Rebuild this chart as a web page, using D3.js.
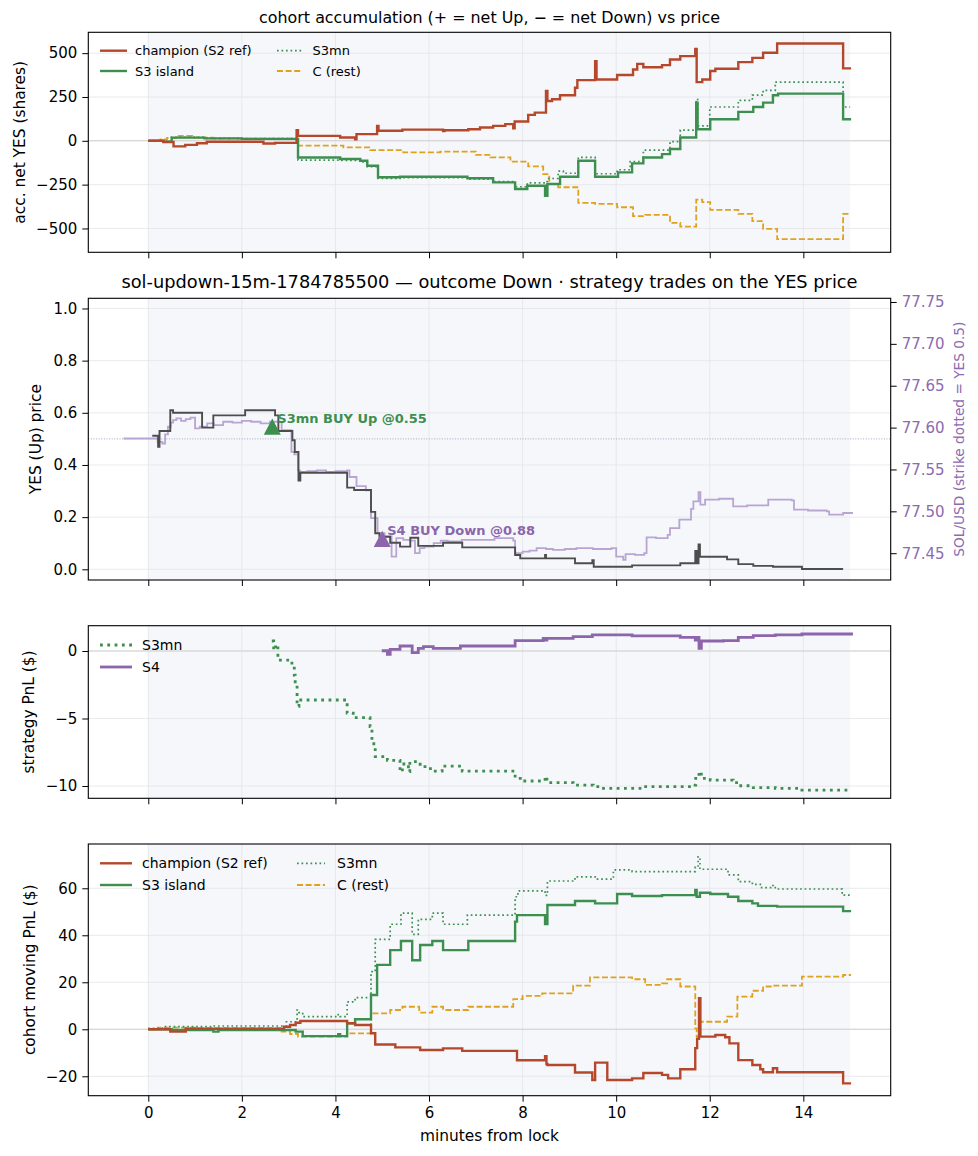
<!DOCTYPE html>
<html><head><meta charset="utf-8">
<script src="https://cdn.jsdelivr.net/npm/d3@7"></script>
<style>body{margin:0;background:#fff;} text{font-family:"DejaVu Sans",sans-serif;}</style>
</head><body><svg id="c" width="978" height="1156"></svg>
<script>
// ---------------- data ----------------
const minuteTicks = [0, 2, 4, 6, 8, 10, 12, 14];
const accTicks = [-500, -250, 0, 250, 500];
const priceTicks = [0, 0.2, 0.4, 0.6, 0.8, 1.0];
const solTicks = [77.45, 77.50, 77.55, 77.60, 77.65, 77.70, 77.75];
const strategyTicks = [-10, -5, 0];
const movingTicks = [-20, 0, 20, 40, 60];
const strikeYes = 0.5;

// panel 1: accumulated net YES shares [minute, shares]
const accChampion = [[0,0],[0.32,-7],[0.54,-32],[0.79,-23],[1.04,-14],[1.25,-5],[2.46,-15],[2.71,-12],[3.17,60],[3.2,28],[4.1,19],[4.42,8],[4.45,38],[4.89,85],[4.92,57],[5.43,64],[6.30,55],[6.33,60],[6.84,66],[7.09,76],[7.37,85],[7.63,95],[7.80,72],[7.83,110],[8.12,148],[8.26,161],[8.50,284],[8.53,227],[8.63,237],[8.80,260],[9.12,303],[9.17,346],[9.55,454],[9.58,350],[10.02,375],[10.36,407],[10.45,439],[10.58,420],[10.98,432],[11.15,464],[11.37,483],[11.69,524],[11.72,335],[11.84,350],[12.01,398],[12.12,411],[12.61,449],[12.91,473],[13.14,502],[13.44,555],[14.85,413],[15.02,413]];
const accS3island = [[0,0],[0.32,-5],[0.5,18],[1.2,14],[2.0,11],[3.17,10],[3.2,-95],[4.1,-104],[4.53,-114],[4.68,-142],[4.91,-208],[5.38,-205],[6.82,-214],[7.37,-237],[7.84,-275],[8.10,-256],[8.48,-313],[8.53,-246],[8.80,-205],[9.19,-114],[9.55,-205],[10.04,-180],[10.34,-129],[10.58,-95],[10.98,-76],[11.15,-47],[11.37,19],[11.71,218],[11.74,66],[12.01,123],[12.61,165],[12.93,193],[13.14,218],[13.35,260],[13.46,269],[14.85,123],[15.02,123]];
const accS3mn = [[0,0],[0.32,-3],[0.5,20],[1.2,14],[2.0,12],[3.17,8],[3.2,-110],[4.1,-112],[4.53,-120],[4.68,-148],[4.91,-215],[5.38,-210],[6.82,-218],[7.37,-232],[7.84,-262],[8.10,-240],[8.48,-232],[8.53,-215],[8.76,-173],[8.87,-185],[9.19,-95],[9.55,-188],[10.02,-165],[10.30,-118],[10.58,-53],[11.15,-5],[11.37,61],[11.71,237],[11.74,85],[12.0,193],[12.61,231],[12.91,261],[13.14,288],[13.40,335],[14.85,193],[15.0,193]];
const accCrest = [[0,0],[0.26,8],[0.4,17],[0.62,28],[0.94,18],[1.39,12],[3.17,10],[3.2,-28],[4.17,-38],[4.74,-53],[5.45,-66],[6.24,-62],[7.0,-80],[7.31,-95],[7.74,-119],[8.12,-146],[8.44,-190],[8.57,-246],[8.76,-265],[9.19,-354],[9.55,-360],[10.02,-379],[10.36,-430],[10.62,-422],[11.15,-468],[11.37,-489],[11.71,-335],[11.84,-350],[12.01,-394],[12.61,-417],[12.91,-458],[13.14,-502],[13.44,-561],[14.85,-417],[15.0,-417]];

// panel 2: YES price and SOL/USD [minute, value]
const yesPrice = [[0.085,0.512],[0.21,0.47],[0.24,0.53],[0.47,0.61],[0.53,0.60],[1.15,0.543],[1.39,0.59],[2.07,0.61],[2.71,0.59],[2.78,0.53],[3.08,0.495],[3.13,0.45],[3.21,0.34],[3.25,0.37],[4.25,0.313],[4.40,0.304],[4.76,0.22],[4.85,0.138],[4.94,0.125],[5.17,0.102],[5.38,0.087],[5.60,0.121],[5.77,0.09],[6.30,0.102],[6.71,0.084],[7.84,0.055],[7.95,0.042],[8.48,0.055],[8.50,0.042],[9.12,0.023],[9.49,0.035],[9.52,0.01],[10.34,0.015],[11.37,0.023],[11.69,0.07],[11.72,0.023],[11.76,0.095],[11.79,0.048],[12.37,0.038],[12.61,0.02],[12.93,0.013],[13.35,0.01],[13.97,0.001],[14.85,0.001]];
const solPrice = [[-0.53,77.587],[0.085,77.587],[0.2,77.583],[0.3,77.581],[0.36,77.592],[0.42,77.601],[0.48,77.606],[0.53,77.609],[0.6,77.611],[0.7,77.608],[0.8,77.610],[0.9,77.612],[1.0,77.599],[1.1,77.601],[1.26,77.605],[1.4,77.603],[1.6,77.607],[1.8,77.606],[2.0,77.608],[2.2,77.607],[2.4,77.605],[2.6,77.607],[2.85,77.597],[3.06,77.571],[3.12,77.568],[3.2,77.549],[3.24,77.547],[3.4,77.548],[3.6,77.549],[3.8,77.547],[4.0,77.548],[4.25,77.549],[4.3,77.541],[4.45,77.530],[4.65,77.525],[4.76,77.492],[4.9,77.474],[5.05,77.470],[5.2,77.446],[5.3,77.468],[5.45,77.466],[5.6,77.465],[5.7,77.45],[5.8,77.456],[5.9,77.458],[6.1,77.462],[6.25,77.465],[6.4,77.464],[6.7,77.466],[7.1,77.466],[7.4,77.468],[7.8,77.465],[7.84,77.45],[8.0,77.452],[8.15,77.453],[8.3,77.456],[8.5,77.455],[8.65,77.454],[8.9,77.455],[9.15,77.456],[9.5,77.455],[9.9,77.456],[10.0,77.446],[10.15,77.442],[10.2,77.449],[10.4,77.448],[10.6,77.450],[10.65,77.469],[10.85,77.468],[11.1,77.472],[11.15,77.48],[11.35,77.490],[11.6,77.503],[11.65,77.512],[11.76,77.523],[11.8,77.508],[11.9,77.514],[12.2,77.515],[12.45,77.515],[12.5,77.506],[12.8,77.507],[13.2,77.507],[13.25,77.514],[13.5,77.514],[13.75,77.513],[13.8,77.502],[14.1,77.501],[14.5,77.500],[14.55,77.496],[14.85,77.498],[15.06,77.498]];

// strategy trades [label, minute, YES price, colour]
const trades = [
  {label:"S3mn BUY Up @0.55", t:2.65, p:0.55, color:"#3d8f4f"},
  {label:"S4 BUY Down @0.88", t:5.0, p:0.12, color:"#8c65ab"}
];

// panel 3: strategy PnL ($)
const pnlS3mn = [[2.64,0.74],[2.68,0.07],[2.72,0.45],[2.77,-0.67],[3.03,-0.9],[3.12,-1.78],[3.14,-2.5],[3.18,-4.1],[3.22,-3.63],[4.25,-4.6],[4.38,-4.93],[4.74,-5.6],[4.78,-6.6],[4.82,-7.2],[4.85,-7.83],[5.11,-8.1],[5.38,-8.94],[5.43,-8.37],[5.56,-8.94],[5.59,-8.2],[5.81,-8.57],[6.03,-8.89],[6.28,-8.52],[6.71,-8.89],[7.84,-9.43],[7.95,-9.63],[8.48,-9.3],[8.52,-9.75],[9.08,-9.93],[9.51,-10.05],[9.66,-10.17],[10.58,-10.05],[11.65,-9.93],[11.70,-9.3],[11.77,-8.94],[11.82,-9.43],[12.01,-9.56],[12.50,-9.75],[12.61,-9.98],[12.93,-10.12],[13.40,-10.17],[13.97,-10.3],[15.0,-10.3]];
const pnlS4 = [[4.99,0.02],[5.11,-0.25],[5.17,0.12],[5.38,0.37],[5.64,-0.12],[5.77,0.2],[5.88,0.32],[6.09,0.2],[6.67,0.37],[7.84,0.77],[8.44,0.94],[8.48,0.8],[8.52,0.94],[9.08,1.06],[9.49,1.19],[10.34,1.12],[11.37,1.01],[11.69,0.8],[11.72,1.01],[11.77,0.2],[11.82,0.74],[12.29,0.77],[12.61,1.01],[12.93,1.14],[13.40,1.19],[13.97,1.26],[15.06,1.26]];

// panel 4: cohort moving PnL ($)
const movChampion = [[0,0],[0.47,-1],[0.8,0.2],[2.9,1.1],[3.03,1.8],[3.15,2.8],[3.25,3.5],[4.25,2.55],[4.42,1.83],[4.76,-1.7],[4.85,-6.5],[5.28,-7.7],[5.81,-8.8],[6.30,-8.1],[6.71,-9.2],[7.88,-13.2],[8.48,-11.5],[8.51,-14.8],[8.53,-15.2],[9.12,-18.4],[9.49,-21.6],[9.55,-14.2],[9.81,-21.6],[10.34,-20.9],[10.58,-18.6],[10.98,-19.4],[11.11,-20.9],[11.37,-17.0],[11.69,-8],[11.73,-4],[11.77,13.2],[11.80,-3.1],[12.12,-2.4],[12.33,-3.4],[12.42,-6],[12.61,-13.1],[12.91,-15.2],[13.08,-17],[13.14,-18.3],[13.35,-16.6],[13.44,-18.3],[14.85,-23],[15.02,-23]];
const movS3island = [[0,0],[0.5,-0.3],[1.39,-1],[1.5,-0.3],[3.15,-1],[3.3,-2.9],[4.06,-2.1],[4.1,-2.9],[4.25,2.55],[4.42,4.25],[4.76,14.6],[4.89,27.4],[5.17,33.7],[5.40,37.6],[5.64,29.4],[5.81,35.9],[6.07,37.6],[6.30,33.7],[6.84,37.6],[7.84,45.8],[7.88,48.6],[8.48,44.8],[8.53,52.9],[9.12,54.6],[9.55,53.6],[10.02,57.6],[10.34,56.7],[10.98,57.1],[11.69,59.3],[11.72,56.4],[11.79,58.1],[12.01,57.6],[12.39,56.4],[12.61,54.6],[12.91,53.6],[13.03,52.5],[13.44,52.2],[14.85,50.3],[15.02,50.3]];
const movS3mn = [[0,0.4],[0.3,1.1],[1.39,1.4],[2.95,3.2],[3.18,8.2],[3.22,7.1],[3.3,5.4],[4.06,6.3],[4.1,5.4],[4.25,11.7],[4.42,13.5],[4.76,24.5],[4.85,38.3],[5.17,44.7],[5.40,49.4],[5.64,40.4],[5.77,46.8],[6.07,49.4],[6.30,44.7],[6.82,48.6],[7.84,56.4],[7.90,58.9],[8.48,57],[8.53,63.1],[9.12,64.9],[9.55,63.9],[9.94,67.8],[10.34,67.1],[11.69,69],[11.75,73.4],[11.79,68.1],[12.39,65.7],[12.61,62.8],[12.91,61.7],[13.08,60.3],[13.35,61.2],[13.40,59.7],[14.83,57.1],[15.0,57.1]];
const movCrest = [[0,0],[0.2,0.7],[1.0,0.5],[2.85,-1],[3.03,-2],[3.2,-3.1],[4.25,-1.7],[4.76,6.8],[5.17,8.2],[5.43,9.6],[5.79,7.1],[6.07,9.6],[6.30,8.2],[6.84,9.6],[7.80,12.8],[8.0,14.2],[8.42,15.3],[9.08,18.6],[9.44,22.1],[10.34,21.3],[10.62,18.9],[10.98,19.5],[11.09,21.3],[11.37,18.2],[11.69,0.4],[11.72,-3],[11.79,3.2],[12.37,5.4],[12.59,13.9],[12.91,16.4],[13.14,18.2],[13.35,18.6],[13.97,22.4],[14.85,23.1],[15.02,23.1]];

// ---------------- drawing ----------------
const C = {champ:"#b5482b", s3:"#3d8f4f", s3mn:"#3d8f4f", crest:"#e0a21e", s4:"#8c65ab", yes:"#4d4d4d", sol:"#b9a5d3", solAxis:"#8c6bb1"};
const svg = d3.select("#c");
const X0 = 88.3, X1 = 890.7;
const x = d3.scaleLinear().domain([-1.282, 15.867]).range([X0, X1]);
const TICKFS = "15px";

function panel(cfg) {
  const g = svg.append("g");
  const y = d3.scaleLinear().domain(cfg.domain).range([cfg.bottom, cfg.top]);
  const cid = "clip" + cfg.id;
  svg.append("clipPath").attr("id", cid).append("rect")
    .attr("x", X0).attr("y", cfg.top).attr("width", X1 - X0).attr("height", cfg.bottom - cfg.top);
  g.append("rect").attr("x", X0).attr("y", cfg.top).attr("width", X1 - X0).attr("height", cfg.bottom - cfg.top).attr("fill", "#fff");
  g.append("rect").attr("x", x(0)).attr("y", cfg.top).attr("width", x(15) - x(0)).attr("height", cfg.bottom - cfg.top).attr("fill", "#f5f7fb");
  g.selectAll(null).data(minuteTicks).join("line")
    .attr("x1", d => x(d)).attr("x2", d => x(d)).attr("y1", cfg.top).attr("y2", cfg.bottom)
    .attr("stroke", "#e4e4e8").attr("stroke-width", 0.8);
  g.selectAll(null).data(cfg.ticks).join("line")
    .attr("x1", X0).attr("x2", X1).attr("y1", d => y(d)).attr("y2", d => y(d))
    .attr("stroke", "#e4e4e8").attr("stroke-width", 0.8);
  if (cfg.zero) g.append("line").attr("x1", X0).attr("x2", X1).attr("y1", y(0)).attr("y2", y(0))
    .attr("stroke", "#d2d2d2").attr("stroke-width", 1.1);
  const plot = g.append("g").attr("clip-path", `url(#${cid})`);
  const ay = g.append("g").attr("transform", `translate(${X0},0)`)
    .call(d3.axisLeft(y).tickValues(cfg.ticks).tickSize(6).tickPadding(5).tickFormat(cfg.fmt || d3.format("d")));
  const ax = g.append("g").attr("transform", `translate(0,${cfg.bottom})`)
    .call(d3.axisBottom(x).tickValues(minuteTicks).tickSize(6).tickPadding(5.6).tickFormat(cfg.xlabels ? d3.format("d") : ""));
  [ay, ax].forEach(a => {
    a.select(".domain").remove();
    a.selectAll("text").attr("font-size", TICKFS).attr("font-family", "DejaVu Sans").attr("fill", "#000");
    a.selectAll("line").attr("stroke", "#000").attr("stroke-width", 1);
  });
  g.append("text").attr("transform", `translate(${cfg.ylx},${(cfg.top + cfg.bottom) / 2}) rotate(-90)`)
    .attr("text-anchor", "middle").attr("dominant-baseline", "central").attr("font-size", "15.4px").text(cfg.ylabel);
  return {g, y, plot, cfg};
}
function frame(p) {
  p.g.append("rect").attr("x", X0).attr("y", p.cfg.top).attr("width", X1 - X0).attr("height", p.cfg.bottom - p.cfg.top)
    .attr("fill", "none").attr("stroke", "#000").attr("stroke-width", 1.1);
}
function series(p, data, color, width, dash, opacity) {
  const line = d3.line().x(d => x(d[0])).y(d => p.y(d[1])).curve(d3.curveStepAfter);
  p.plot.append("path").datum(data).attr("d", line).attr("fill", "none")
    .attr("stroke", color).attr("stroke-width", width).attr("stroke-dasharray", dash || null)
    .attr("stroke-opacity", opacity || 1).attr("stroke-linejoin", "miter");
}
function legend(g, items, fs) {
  items.forEach(it => {
    g.append("line").attr("x1", it.x).attr("x2", it.x + it.len).attr("y1", it.y).attr("y2", it.y)
      .attr("stroke", it.color).attr("stroke-width", it.w).attr("stroke-dasharray", it.dash || null);
    g.append("text").attr("x", it.tx).attr("y", it.y).attr("dominant-baseline", "central")
      .attr("font-size", fs).text(it.label);
  });
}

const DOT = "1.7,2.8", DASH = "6,2.6";
const LW = 2.4, LT = 1.7;

// ---- panel 1
const p1 = panel({id:1, top:32.3, bottom:252.3, domain:[-636, 619], ticks:accTicks, zero:true, ylabel:"acc. net YES (shares)", ylx:20});
series(p1, accCrest, C.crest, 1.8, DASH);
series(p1, accS3mn, C.s3mn, LT, DOT);
series(p1, accS3island, C.s3, LW);
series(p1, accChampion, C.champ, LW);
frame(p1);
svg.append("text").attr("x", 489.5).attr("y", 22.5).attr("text-anchor", "middle").attr("font-size", "15.9px")
  .text("cohort accumulation (+ = net Up, \u2212 = net Down) vs price");
legend(p1.g, [
  {x:100, len:27, y:50.7, tx:135, color:C.champ, w:LW, label:"champion (S2 ref)"},
  {x:100, len:27, y:71, tx:135, color:C.s3, w:LW, label:"S3 island"},
  {x:277, len:25, y:50.7, tx:312.5, color:C.s3mn, w:LT, dash:DOT, label:"S3mn"},
  {x:277, len:25, y:71, tx:312.5, color:C.crest, w:1.8, dash:DASH, label:"C (rest)"}
], "13px");

// ---- panel 2
const p2 = panel({id:2, top:298.3, bottom:580, domain:[-0.041, 1.039], ticks:priceTicks, fmt:d3.format(".1f"), ylabel:"YES (Up) price", ylx:36});
const yR = d3.scaleLinear().domain([77.418, 77.7544]).range([580, 298.3]);
p2.plot.append("line").attr("x1", X0).attr("x2", X1).attr("y1", p2.y(strikeYes)).attr("y2", p2.y(strikeYes))
  .attr("stroke", "#a9a4c4").attr("stroke-width", 1).attr("stroke-dasharray", "1,1.6");
{
  const sl = d3.line().x(d => x(d[0])).y(d => yR(d[1])).curve(d3.curveStepAfter);
  p2.plot.append("path").datum(solPrice).attr("d", sl).attr("fill", "none").attr("stroke", C.sol).attr("stroke-width", 1.8);
}
series(p2, yesPrice, C.yes, 1.9);
trades.forEach(tr => {
  const cx = x(tr.t), cy = p2.y(tr.p) + 1;
  const tri = d3.path();
  tri.moveTo(cx, cy - 8.3); tri.lineTo(cx + 8.5, cy + 8); tri.lineTo(cx - 8.5, cy + 8); tri.closePath();
  p2.g.append("path").attr("d", tri.toString()).attr("fill", tr.color);
  p2.g.append("text").attr("x", cx + 5).attr("y", p2.y(tr.p) - 2.6).attr("font-size", "13px")
    .attr("font-weight", "bold").attr("fill", tr.color).text(tr.label);
});
frame(p2);
{
  const ar = p2.g.append("g").attr("transform", `translate(${X1},0)`)
    .call(d3.axisRight(yR).tickValues(solTicks).tickSize(6).tickPadding(5).tickFormat(d3.format(".2f")));
  ar.select(".domain").remove();
  ar.selectAll("text").attr("font-size", TICKFS).attr("fill", C.solAxis);
  ar.selectAll("line").attr("stroke", "#000");
  p2.g.append("text").attr("transform", `translate(959,${(298.3 + 580) / 2}) rotate(-90)`)
    .attr("text-anchor", "middle").attr("dominant-baseline", "central").attr("font-size", "13.7px")
    .attr("fill", C.solAxis).text("SOL/USD (strike dotted = YES 0.5)");
}
svg.append("text").attr("x", 489.5).attr("y", 288).attr("text-anchor", "middle").attr("font-size", "17.8px")
  .text("sol-updown-15m-1784785500 \u2014 outcome Down \u00b7 strategy trades on the YES price");

// ---- panel 3
const p3 = panel({id:3, top:625.7, bottom:798.3, domain:[-10.91, 1.874], ticks:strategyTicks, zero:true, ylabel:"strategy PnL ($)", ylx:29});
series(p3, pnlS3mn, C.s3mn, 2.8, "2.8,4.5");
series(p3, pnlS4, C.s4, 2.8);
frame(p3);
legend(p3.g, [
  {x:100, len:32, y:645, tx:142, color:C.s3mn, w:2.8, dash:"2.8,4.5", label:"S3mn"},
  {x:100, len:32, y:667, tx:142, color:C.s4, w:2.8, label:"S4"}
], "14px");

// ---- panel 4
const p4 = panel({id:4, top:844, bottom:1095.7, domain:[-28.26, 78.85], ticks:movingTicks, zero:true, xlabels:true, ylabel:"cohort moving PnL ($)", ylx:29.5});
series(p4, movCrest, C.crest, 1.8, DASH);
series(p4, movS3mn, C.s3mn, LT, DOT);
series(p4, movS3island, C.s3, LW);
series(p4, movChampion, C.champ, LW);
frame(p4);
legend(p4.g, [
  {x:100, len:32, y:863.3, tx:142, color:C.champ, w:LW, label:"champion (S2 ref)"},
  {x:100, len:32, y:885, tx:142, color:C.s3, w:LW, label:"S3 island"},
  {x:297, len:28, y:863.3, tx:337, color:C.s3mn, w:LT, dash:DOT, label:"S3mn"},
  {x:297, len:28, y:885, tx:337, color:C.crest, w:1.8, dash:DASH, label:"C (rest)"}
], "14px");
svg.append("text").attr("x", 489.5).attr("y", 1140.5).attr("text-anchor", "middle").attr("font-size", "15.4px").text("minutes from lock");
</script></body></html>
